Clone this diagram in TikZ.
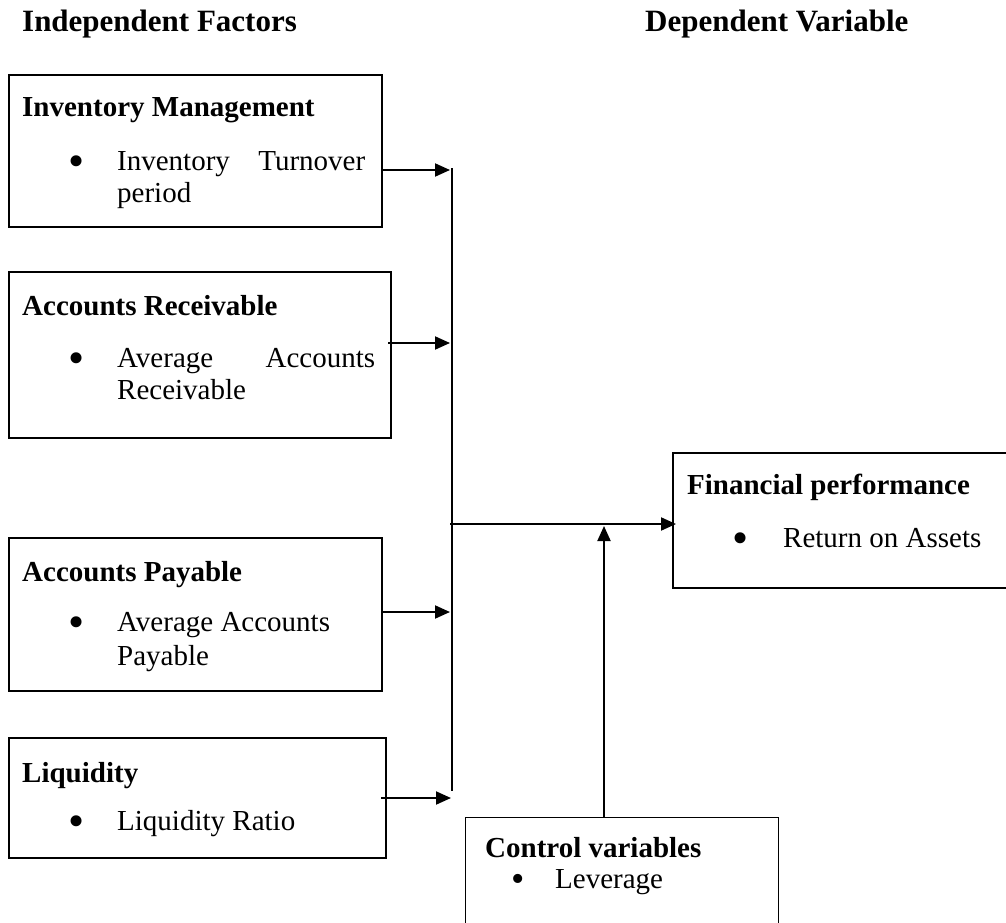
\documentclass[tikz,border=0pt]{standalone}
\usepackage{fontspec}
\setmainfont{Liberation Serif}
\usetikzlibrary{arrows.meta}
\newcommand{\bulletmark}{\smash{•}}
\begin{document}
\begin{tikzpicture}[x=1pt,y=-1pt,
  box/.style n args={2}{draw,line width=2pt,anchor=north west,minimum width=#1,minimum height=#2,inner sep=0pt},
  txt/.style={inner sep=0pt,anchor=base west,font=\fontsize{29}{33}\selectfont},
  bul/.style={inner sep=0pt,anchor=base west,font=\fontsize{46}{46}\selectfont},
  ttl/.style={inner sep=0pt,anchor=base west,font=\bfseries\fontsize{29}{33}\selectfont},
  hdr/.style={inner sep=0pt,anchor=base west,font=\bfseries\fontsize{31}{36}\selectfont},
  arr/.style={line width=2pt,-{Triangle[length=15pt,width=13pt]}},
  thinline/.style={line width=1.3pt}]
\path[use as bounding box,fill=white] (0,0) rectangle (1006,923);

% headings
\node[hdr] (h1) at (22,32) {Independent Factors};
\node[hdr] (h2) at (645,32) {Dependent Variable};

% boxes
\node[box={373pt}{152pt}] (inv) at (8,74) {};
\node[box={382pt}{166pt}] (ar) at (8,271) {};
\node[box={373pt}{153pt}] (ap) at (8,537) {};
\node[box={377pt}{120pt}] (liq) at (8,737) {};
\node[box={345pt}{135pt}] (fin) at (672,452) {};
\node[box={313pt}{130pt},line width=1.4pt] (ctrl) at (465,817) {};

% box 1
\node[ttl] (t1) at (22,117) {Inventory Management};
\node[bul] (b1) at (68,176) {\bulletmark};
\node[txt] (l1a) at (117,170) {\makebox[248pt][s]{Inventory Turnover}};
\node[txt] (l1b) at (117,202) {period};

% box 2
\node[ttl] (t2) at (22,315) {Accounts Receivable};
\node[bul] (b2) at (68,373) {\bulletmark};
\node[txt] (l2a) at (117,367) {\makebox[258pt][s]{Average Accounts}};
\node[txt] (l2b) at (117,399) {Receivable};

% box 3
\node[ttl] (t3) at (22,581) {Accounts Payable};
\node[bul] (b3) at (68,637) {\bulletmark};
\node[txt] (l3a) at (117,631) {Average Accounts};
\node[txt] (l3b) at (117,665) {Payable};

% box 4
\node[ttl] (t4) at (22,782) {Liquidity};
\node[bul] (b4) at (68,836) {\bulletmark};
\node[txt] (l4a) at (117,830) {Liquidity Ratio};

% financial performance
\node[ttl] (t5) at (687,494) {Financial performance};
\node[bul] (b5) at (732,553) {\bulletmark};
\node[txt] (l5a) at (783,547) {Return on Assets};

% control variables
\node[ttl] (t6) at (485,857) {Control variables};
\node[bul,font=\fontsize{38}{38}\selectfont] (b6) at (511,891) {\bulletmark};
\node[txt] (l6a) at (555,888) {Leverage};

% connectors
\coordinate (vt) at (452,168);
\coordinate (vb) at (452,791);
\draw[thinline] (vt) -- (vb);

\coordinate (j1) at (450,170);
\coordinate (j2) at (450,343);
\coordinate (j3) at (450,612);
\coordinate (j4) at (451,798);
\draw[arr] (inv.east |- j1) -- (j1);
\draw[arr] ([xshift=-4pt]ar.east |- j2) -- (j2);
\draw[arr] (ap.east |- j3) -- (j3);
\draw[arr] ([xshift=-6pt]liq.east |- j4) -- (j4);

\coordinate (hs) at (450,524);
\draw[arr] (hs) -- ([xshift=4pt]fin.west |- hs);

\coordinate (m) at (604,526);
\draw[arr] (m |- ctrl.north) -- (m);
\end{tikzpicture}
\end{document}
